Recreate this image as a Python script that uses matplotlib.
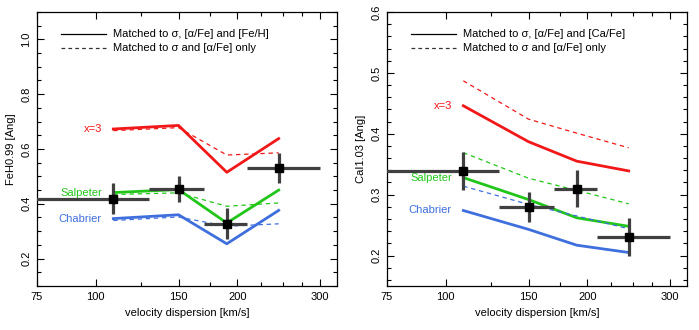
import matplotlib
matplotlib.use("Agg")
import matplotlib.pyplot as plt
from matplotlib.ticker import FixedLocator, NullFormatter, MultipleLocator

plt.rcParams['font.family'] = ['Liberation Sans', 'DejaVu Sans']
plt.rcParams['font.size'] = 8

# velocity dispersion bins
sigma = [109, 150, 190, 245]
sig_lo = [70, 130, 170, 210]
sig_hi = [130, 170, 210, 300]

# FeH0.99 panel
feh_obs = [0.418, 0.453, 0.328, 0.530]
feh_err = [0.057, 0.047, 0.055, 0.055]
feh_x3 = [0.673, 0.686, 0.515, 0.638]
feh_x3_d = [0.667, 0.678, 0.578, 0.586]
feh_salp = [0.441, 0.452, 0.330, 0.450]
feh_salp_d = [0.434, 0.440, 0.391, 0.403]
feh_chab = [0.346, 0.360, 0.254, 0.376]
feh_chab_d = [0.339, 0.352, 0.318, 0.327]

# CaI1.03 panel
cai_obs = [0.339, 0.280, 0.310, 0.231]
cai_err = [0.031, 0.025, 0.030, 0.031]
cai_x3 = [0.446, 0.387, 0.355, 0.339]
cai_x3_d = [0.487, 0.424, 0.401, 0.377]
cai_salp = [0.328, 0.292, 0.262, 0.248]
cai_salp_d = [0.369, 0.327, 0.307, 0.285]
cai_chab = [0.274, 0.243, 0.217, 0.205]
cai_chab_d = [0.314, 0.284, 0.265, 0.244]

RED = '#f01818'
GREEN = '#22c61a'
BLUE = '#3f6fdc'

fig = plt.figure(figsize=(6.99, 3.30), dpi=100)
ax1 = fig.add_axes([37/699, 44/330, 300/699, 274/330])
ax2 = fig.add_axes([387/699, 44/330, 300/699, 274/330])


def panel(ax, obs, err, x3, x3d, salp, salpd, chab, chabd, ylab, ylim, major, minor, third):
    ax.set_xscale('log')
    for solid, dash, col, name in [(x3, x3d, RED, 'x=3'),
                                   (salp, salpd, GREEN, 'Salpeter'),
                                   (chab, chabd, BLUE, 'Chabrier')]:
        ax.plot(sigma, solid, color=col, lw=2.0, zorder=2)
        ax.plot(sigma, dash, color=col, lw=0.9, ls=(0, (3.5, 3)), zorder=2)
        ax.text(103, solid[0], name, color=col, ha='right', va='center', fontsize=8)
    xerr = [[s - l for s, l in zip(sigma, sig_lo)], [h - s for s, h in zip(sigma, sig_hi)]]
    ax.errorbar(sigma, obs, yerr=err, xerr=xerr, fmt='s', color='black', ms=6,
                ecolor='#404040', elinewidth=2.3, capsize=0, zorder=5)

    # legend
    ax.plot([0.08, 0.23], [0.92, 0.92], color='black', lw=0.9, transform=ax.transAxes)
    ax.plot([0.08, 0.23], [0.869, 0.869], color='#333333', lw=0.9, ls=(0, (3, 2.5)),
            transform=ax.transAxes)
    ax.text(0.253, 0.92, 'Matched to \u03c3, [\u03b1/Fe] and ' + third, transform=ax.transAxes,
            va='center', ha='left', fontsize=8)
    ax.text(0.253, 0.869, 'Matched to \u03c3 and [\u03b1/Fe] only', transform=ax.transAxes,
            va='center', ha='left', fontsize=8)

    ax.set_xlim(75, 326)
    ax.set_ylim(*ylim)
    ax.xaxis.set_major_locator(FixedLocator([75, 100, 150, 200, 300]))
    ax.xaxis.set_minor_locator(FixedLocator([125, 175, 225, 250, 275]))
    ax.set_xticklabels(['75', '100', '150', '200', '300'])
    ax.xaxis.set_minor_formatter(NullFormatter())
    ax.yaxis.set_major_locator(MultipleLocator(major))
    ax.yaxis.set_minor_locator(MultipleLocator(minor))
    ax.tick_params(which='both', direction='in', top=True, right=True, width=0.8)
    ax.tick_params(which='major', length=5, labelsize=8, pad=4)
    ax.tick_params(which='minor', length=3)
    ax.tick_params(axis='y', labelrotation=90)
    for lab in ax.get_yticklabels():
        lab.set_va('center')
    for sp in ax.spines.values():
        sp.set_linewidth(0.9)
    ax.set_xlabel('velocity dispersion [km/s]', fontsize=8, labelpad=5)
    ax.set_ylabel(ylab, fontsize=8, labelpad=4)


panel(ax1, feh_obs, feh_err, feh_x3, feh_x3_d, feh_salp, feh_salp_d, feh_chab, feh_chab_d,
      'FeH0.99 [Ang]', (0.1, 1.1), 0.2, 0.05, '[Fe/H]')
panel(ax2, cai_obs, cai_err, cai_x3, cai_x3_d, cai_salp, cai_salp_d, cai_chab, cai_chab_d,
      'CaI1.03 [Ang]', (0.15, 0.6), 0.1, 0.02, '[Ca/Fe]')

fig.savefig('out.png', dpi=100)
